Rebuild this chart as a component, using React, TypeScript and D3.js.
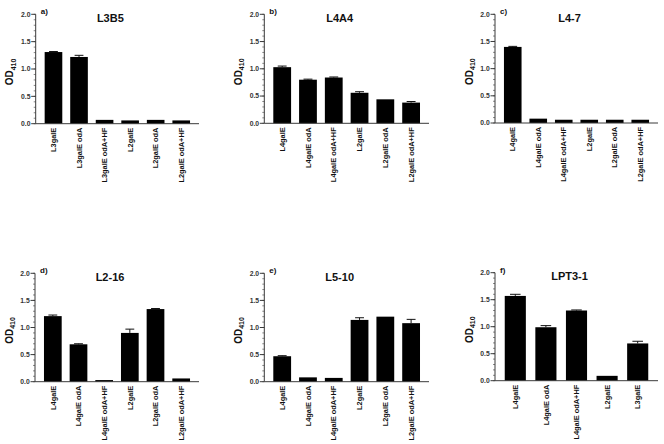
import React from "react";
import * as d3 from "d3";

const panelLetters = ["a)", "b)", "c)", "d)", "e)", "f)"];
const panelTitles = ["L3B5", "L4A4", "L4-7", "L2-16", "L5-10", "LPT3-1"];

const catsL3L2 = ["L3galE", "L3galE odA", "L3galE odA+HF", "L2galE", "L2galE odA", "L2galE odA+HF"];
const catsL4L2 = ["L4galE", "L4galE odA", "L4galE odA+HF", "L2galE", "L2galE odA", "L2galE odA+HF"];
const catsF = ["L4galE", "L4galE odA", "L4galE odA+HF", "L2galE", "L3galE"];

const valuesA = [1.31, 1.22, 0.07, 0.06, 0.07, 0.06];
const errorsA = [0.01, 0.03, 0.0, 0.0, 0.0, 0.0];
const valuesB = [1.03, 0.8, 0.84, 0.56, 0.44, 0.38];
const errorsB = [0.02, 0.01, 0.01, 0.02, 0.0, 0.02];
const valuesC = [1.4, 0.08, 0.06, 0.06, 0.06, 0.06];
const errorsC = [0.01, 0.0, 0.0, 0.0, 0.0, 0.0];
const valuesD = [1.21, 0.69, 0.03, 0.9, 1.34, 0.06];
const errorsD = [0.02, 0.01, 0.0, 0.07, 0.01, 0.0];
const valuesE = [0.47, 0.08, 0.07, 1.14, 1.2, 1.08];
const errorsE = [0.01, 0.0, 0.0, 0.04, 0.0, 0.07];
const valuesF = [1.57, 0.99, 1.3, 0.09, 0.69];
const errorsF = [0.03, 0.03, 0.01, 0.0, 0.04];

const yTicks = [0, 0.5, 1.0, 1.5, 2.0];
const yMinorTicks = d3.range(0, 2.0001, 0.1);

const panelCats = [catsL3L2, catsL4L2, catsL4L2, catsL4L2, catsL4L2, catsF];
const panelValues = [valuesA, valuesB, valuesC, valuesD, valuesE, valuesF];
const panelErrors = [errorsA, errorsB, errorsC, errorsD, errorsE, errorsF];

// layout frames: axis x, axis end, y of 2.0, y of 0.0
const frames = [
  { left: 35.7, right: 199, top: 14.3, bottom: 123.7 },
  { left: 264.3, right: 429, top: 14.3, bottom: 123.3 },
  { left: 495, right: 658, top: 14.3, bottom: 123 },
  { left: 35, right: 199, top: 273.3, bottom: 381.7 },
  { left: 264.3, right: 429, top: 273.3, bottom: 381.7 },
  { left: 495, right: 658, top: 272.7, bottom: 380.7 },
];

const FONT = "'Liberation Sans', Arial, sans-serif";
const AXIS = "#3a3a3a";

function Panel({ idx }: { idx: number }) {
  const f = frames[idx];
  const cats = panelCats[idx];
  const vals = panelValues[idx];
  const errs = panelErrors[idx];
  const x = d3
    .scaleBand<string>()
    .domain(cats)
    .range([f.left + 5, f.right - 5])
    .paddingInner(0.31)
    .paddingOuter(0.155);
  const y = d3.scaleLinear().domain([0, 2]).range([f.bottom, f.top]);
  const midY = (f.top + f.bottom) / 2;
  const cx = (f.left + f.right) / 2 - 7;
  return (
    <g>
      {cats.map((c, i) => {
        const bx = x(c) as number;
        const bw = x.bandwidth();
        const v = vals[i];
        const e = errs[i];
        const xc = bx + bw / 2;
        return (
          <g key={c}>
            {e > 0 && (
              <g stroke="#111" strokeWidth={1}>
                <line x1={xc} x2={xc} y1={y(v)} y2={y(v + e)} />
                <line x1={xc - bw * 0.25} x2={xc + bw * 0.25} y1={y(v + e)} y2={y(v + e)} />
              </g>
            )}
            <rect x={bx} y={y(v)} width={bw} height={y(0) - y(v)} fill="#000" />
            <text
              transform={`translate(${xc + 2.7},${f.bottom + 4}) rotate(-90)`}
              textAnchor="end"
              fontFamily={FONT}
              fontWeight="bold"
              fontSize={7.4}
              fill="#111"
            >
              {c}
            </text>
          </g>
        );
      })}
      <line x1={f.left} x2={f.left} y1={y(2)} y2={y(0)} stroke={AXIS} strokeWidth={1} />
      <line x1={f.left} x2={f.right} y1={y(0)} y2={y(0)} stroke={AXIS} strokeWidth={1} />
      {yMinorTicks.map((t) => (
        <line key={"m" + t} x1={f.left - 2} x2={f.left} y1={y(t)} y2={y(t)} stroke={AXIS} strokeWidth={0.6} />
      ))}
      {yTicks.map((t) => (
        <g key={"t" + t}>
          <line x1={f.left - 4.5} x2={f.left} y1={y(t)} y2={y(t)} stroke={AXIS} strokeWidth={1} />
          <text
            x={f.left - 5.2}
            y={y(t)}
            dy="0.35em"
            textAnchor="end"
            fontFamily={FONT}
            fontWeight="bold"
            fontSize={6.8}
            fill="#333"
          >
            {d3.format(".1f")(t)}
          </text>
        </g>
      ))}
      <text
        transform={`translate(${f.left - 22.5},${midY + 3}) rotate(-90)`}
        textAnchor="middle"
        fontFamily={FONT}
        fontWeight="bold"
        fontSize={10}
        fill="#111"
      >
        OD
        <tspan fontSize={7} dy={2.5}>410</tspan>
      </text>
      <text x={cx} y={f.top + 7.5} textAnchor="middle" fontFamily={FONT} fontWeight="bold" fontSize={11} fill="#111">
        {panelTitles[idx]}
      </text>
      <text x={f.left + 5} y={f.top} fontFamily={FONT} fontWeight="bold" fontSize={8} fill="#111">
        {panelLetters[idx]}
      </text>
    </g>
  );
}

export default function App() {
  return (
    <svg
      width={664}
      height={444}
      viewBox="0 0 664 444"
      style={{ position: "absolute", left: 0, top: 0, background: "#fff" }}
    >
      <rect width={664} height={444} fill="#fff" />
      {frames.map((_, i) => (
        <Panel key={i} idx={i} />
      ))}
    </svg>
  );
}
